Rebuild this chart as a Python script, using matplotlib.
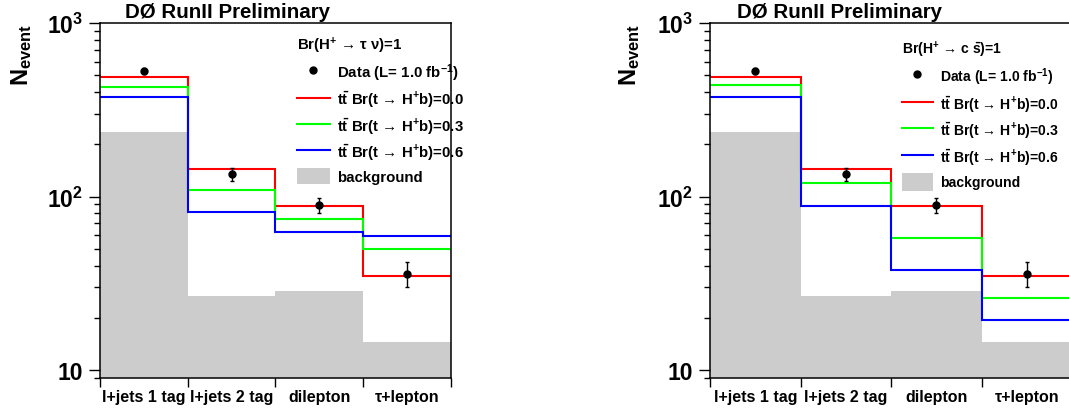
import matplotlib
matplotlib.use("Agg")
import matplotlib.pyplot as plt
from matplotlib.lines import Line2D
from matplotlib.patches import Patch
import numpy as np

plt.rcParams['font.family'] = ['Liberation Sans', 'DejaVu Sans']
plt.rcParams['font.weight'] = 'bold'
plt.rcParams['mathtext.fontset'] = 'custom'
plt.rcParams['mathtext.rm'] = 'Liberation Sans:weight=bold'
plt.rcParams['mathtext.it'] = 'Liberation Sans:weight=bold'
plt.rcParams['mathtext.bf'] = 'Liberation Sans:weight=bold'
plt.rcParams['mathtext.sf'] = 'Liberation Sans:weight=bold'

# channels
categories = ['l+jets 1 tag', 'l+jets 2 tag', 'dilepton', 'τ+lepton']

# observed data (same in both panels)
data = [529, 135, 89, 36]
data_err = [23, 12, 9, 6]

# background
background = [234, 26.8, 28.7, 14.6]

# expectation, H+ -> tau nu
taunu_00 = [491, 144, 87.8, 35]
taunu_03 = [426, 109, 74.2, 50]
taunu_06 = [376, 81.7, 62.7, 59.5]

# expectation, H+ -> c sbar
cs_00 = [491, 144, 87.8, 35]
cs_03 = [439, 120, 57.4, 26.1]
cs_06 = [376, 87.8, 37.8, 19.5]

series_colors = ['#ff0000', '#00ff00', '#0000ff']
br_labels = ['0.0', '0.3', '0.6']

fig = plt.figure(figsize=(10.69, 4.14), dpi=100)
ax1 = fig.add_axes([0.0935, 0.0845, 0.3284, 0.8575])
ax2 = fig.add_axes([0.6642, 0.0845, 0.3386, 0.8575])

edges = np.arange(len(categories) + 1)
centers = edges[:-1] + 0.5


def draw_panel(ax, curves, header, leg_size, leg_anchor, title_x, hh, sp):
    ax.stairs(background, edges, fill=True, baseline=1, color='#cccccc', lw=0)
    for vals, c in zip(curves, series_colors):
        ax.stairs(vals, edges, baseline=None, color=c, lw=1.5)
    ax.errorbar(centers, data, yerr=data_err, fmt='o', color='black',
                ms=5, elinewidth=1, capsize=1.5, capthick=1)

    ax.set_yscale('log')
    ax.set_ylim(9.0, 1000)
    ax.set_xlim(0, len(categories))
    ax.set_yticks([10, 100, 1000])
    ax.set_yticklabels(['10', r'$\mathbf{10^{2}}$', r'$\mathbf{10^{3}}$'],
                       fontsize=16.5)
    ax.tick_params(axis='y', which='major', length=8, width=1, pad=4)
    ax.tick_params(axis='y', which='minor', length=4, width=1)
    ax.set_xticks(edges, minor=True)
    ax.set_xticks(centers)
    ax.set_xticklabels(categories, fontsize=11.5)
    ax.tick_params(axis='x', which='major', length=0, pad=8)
    ax.tick_params(axis='x', which='minor', length=6.5, width=1)
    for s in ax.spines.values():
        s.set_linewidth(1.1)

    ax.text(-0.222, 1.0, r'$\mathbf{N_{event}}$', transform=ax.transAxes,
            rotation=90, ha='center', va='top', fontsize=17)
    ax.text(title_x, 1.017, 'DØ RunII Preliminary', transform=ax.transAxes,
            ha='center', va='baseline', fontsize=14.8)

    handles = [Line2D([], [], marker='o', ls='none', color='black', ms=5)]
    labels = [r'Data (L= 1.0 fb$^{-1}$)']
    for c, b in zip(series_colors, br_labels):
        handles.append(Line2D([], [], color=c, lw=1.5))
        labels.append(r't$\bar{\mathbf{t}}$ Br(t → H$^{+}$b)=' + b)
    handles.append(Patch(facecolor='#cccccc', edgecolor='none'))
    labels.append('background')
    ax.legend(handles, labels, title=header, title_fontsize=leg_size,
              fontsize=leg_size, loc='upper left', bbox_to_anchor=leg_anchor,
              frameon=False, alignment='left', borderpad=0, borderaxespad=0,
              handlelength=2.2, handleheight=hh, handletextpad=0.5,
              labelspacing=sp)


draw_panel(ax1, [taunu_00, taunu_03, taunu_06],
           r'Br(H$^{+}$ → τ ν)=1', 10.8,
           (0.561, 0.966), 0.362, 1.3, 0.4)
draw_panel(ax2, [cs_00, cs_03, cs_06],
           r'Br(H$^{+}$ → c $\bar{\mathbf{s}}$)=1', 10.1,
           (0.530, 0.955), 0.359, 1.6, 0.45)

fig.savefig('out.png', dpi=100)
